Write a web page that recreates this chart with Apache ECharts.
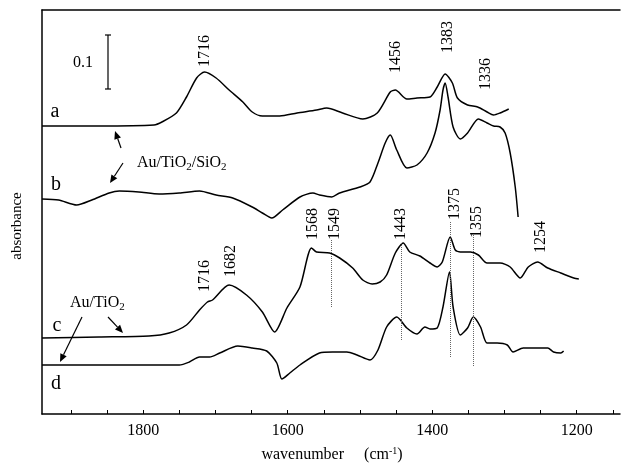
<!DOCTYPE html>
<html>
<head>
<meta charset="utf-8">
<script src="https://cdn.jsdelivr.net/npm/echarts@6/dist/echarts.min.js"></script>
<style>
html,body{margin:0;padding:0;background:#fff}
#chart{width:622px;height:469px}
</style>
</head>
<body>
<div id="chart"></div>
<script>
// spectra (wavenumber / absorbance, offset units)
var wnA  = [1940,1861,1785,1774,1754,1740,1726,1715,1699,1681,1662,1649,1635,1611,1587,1560,1546,1524,1496,1476,1458,1451,1435,1421,1403,1393,1382,1372,1365,1351,1337,1324,1315,1306,1294];
var absA = [288,288,289,292,301,317,336,342,336,324,312,302,298,298,301,304,306,301,295,301,322,324,315,316,317,327,340,331,316,309,307,302,299,301,305];

var wnB  = [1940,1917,1892,1871,1847,1833,1806,1778,1750,1722,1699,1676,1649,1635,1622,1607,1583,1565,1556,1539,1528,1500,1486,1475,1465,1458,1449,1435,1421,1407,1396,1389,1385,1382,1378,1371,1361,1351,1336,1324,1315,1306,1299,1292,1285,1281];
var absB = [215,214,209,214,221,223,222,220,221,223,219,216,207,201,196,204,217,221,219,217,221,227,232,251,271,279,264,246,249,261,281,304,324,331,317,287,275,281,295,291,288,287,281,261,227,197];

var wnC  = [1940,1861,1792,1764,1740,1722,1711,1704,1681,1657,1635,1618,1601,1583,1567,1560,1542,1528,1510,1496,1483,1472,1463,1451,1440,1431,1417,1403,1393,1386,1375,1368,1361,1347,1336,1324,1306,1292,1278,1267,1254,1240,1222,1204,1197];
var absC = [76,77,78,81,89,104,112,114,129,119,102,82,106,127,166,162,161,156,146,134,130,132,139,161,171,162,158,151,147,152,177,164,162,162,159,151,151,147,136,147,152,146,141,136,135];

var wnD  = [1940,1750,1736,1722,1708,1694,1669,1649,1629,1615,1608,1597,1583,1556,1538,1518,1504,1486,1475,1463,1449,1435,1421,1410,1403,1393,1385,1376,1371,1361,1351,1343,1333,1324,1310,1296,1288,1274,1254,1240,1232,1222,1218];
var absD = [49,49,52,57,57,61,68,66,63,51,35,41,49,61,62,62,59,54,64,87,97,86,80,87,85,86,107,142,107,79,86,97,87,71,71,69,62,66,66,66,62,61,63];

// peak labels
var peakText = ['1716','1456','1383','1336','1716','1682','1568','1549','1443','1375','1355','1254'];
var peakWn   = [1715,1451,1378,1326,1714,1679,1565,1535,1444,1368,1338,1250];
var peakBase = [347,341,361,324,122,137,174,174,174,194,176,161];

// dotted guide lines
var guideWn     = [1539,1443,1375,1343];
var guideTop    = [174,171,192,179];
var guideBottom = [107,74,57,47];

var tickVals  = [1150,1200,1250,1300,1350,1400,1450,1500,1550,1600,1650,1700,1750,1800,1850,1900];
var labelVals = [1200,1400,1600,1800];

function pairs(xs, ys){
	var out = [];
	for(var i=0;i<xs.length;i++){ out.push([xs[i], ys[i]]); }
	return out;
}

var serif = 'Liberation Serif';

function curve(name, xs, ys){
	return {
		name:name,
		type:'line',
		data:pairs(xs, ys),
		symbol:'none',
		smooth:0.25,
		lineStyle:{color:'#000',width:1.5},
		silent:true,
		animation:false
	};
}

var guides = [];
for(var i=0;i<guideWn.length;i++){
	guides.push([{coord:[guideWn[i], guideTop[i]]},{coord:[guideWn[i], guideBottom[i]]}]);
}

var seriesC = curve('c', wnC, absC);
seriesC.markLine = {
	silent:true,
	symbol:'none',
	label:{show:false},
	lineStyle:{type:'dotted',color:'#666',width:1},
	data:guides
};

var option = {
	animation:false,
	backgroundColor:'#fff',
	grid:{left:42,top:10,right:2,bottom:55},
	xAxis:[{
		type:'value',
		inverse:true,
		min:1140,
		max:1940,
		axisLine:{lineStyle:{color:'#000',width:1.5}},
		axisTick:{inside:true,length:4,customValues:tickVals,lineStyle:{color:'#000'}},
		axisLabel:{customValues:labelVals,color:'#000',fontFamily:serif,fontSize:16,margin:9,
			formatter:function(v){ return String(v); }},
		splitLine:{show:false}
	},{
		type:'value',
		position:'top',
		inverse:true,
		min:1140,
		max:1940,
		axisLine:{show:true,lineStyle:{color:'#000',width:1.5}},
		axisTick:{show:false},
		axisLabel:{show:false},
		splitLine:{show:false}
	}],
	yAxis:{
		type:'value',
		min:0,
		max:404,
		axisLine:{show:true,lineStyle:{color:'#000',width:1.5}},
		axisTick:{show:false},
		axisLabel:{show:false},
		splitLine:{show:false}
	},
	series:[
		curve('a', wnA, absA),
		curve('b', wnB, absB),
		seriesC,
		curve('d', wnD, absD)
	]
};

var myChart = echarts.init(document.getElementById('chart'));
myChart.setOption(option);

function txt(x, y, s, size){
	return {
		type:'text',
		x:x, y:y,
		style:{text:s,fill:'#000',font:size+'px "'+serif+'"',textAlign:'center',textVerticalAlign:'middle'},
		silent:true
	};
}

function arrow(x1,y1,x2,y2){
	var ang = Math.atan2(y2-y1, x2-x1);
	var L = 8, W = 3.5;
	var bx = x2 - L*Math.cos(ang), by = y2 - L*Math.sin(ang);
	return [
		{type:'line',shape:{x1:x1,y1:y1,x2:bx,y2:by},style:{stroke:'#000',lineWidth:1.2},silent:true},
		{type:'polygon',shape:{points:[[x2,y2],[bx+W*Math.sin(ang),by-W*Math.cos(ang)],[bx-W*Math.sin(ang),by+W*Math.cos(ang)]]},style:{fill:'#000'},silent:true}
	];
}

var g = [];
// peak labels, rotated, anchored in data coords
for(var i=0;i<peakText.length;i++){
	var p = myChart.convertToPixel({xAxisIndex:0,yAxisIndex:0},[peakWn[i], peakBase[i]]);
	g.push({
		type:'text',
		x:p[0], y:p[1],
		rotation:Math.PI/2,
		style:{text:peakText[i],fill:'#000',font:'16px "'+serif+'"',textAlign:'left',textVerticalAlign:'middle'},
		silent:true
	});
}

// trace letters
g.push(txt(55,112,'a',20));
g.push(txt(56,185,'b',20));
g.push(txt(57,326,'c',20));
g.push(txt(56,384,'d',20));

// sample annotations
var richSub = {
	n:{fontFamily:serif,fontSize:16,fill:'#000',lineHeight:20,verticalAlign:'middle'},
	s:{fontFamily:serif,fontSize:11,fill:'#000',lineHeight:20,padding:[9,0,0,0]}
};
g.push({
	type:'text', x:137, y:163,
	style:{text:'{n|Au/TiO}{s|2}{n|/SiO}{s|2}',textAlign:'left',textVerticalAlign:'middle',rich:richSub},
	silent:true
});
g.push({
	type:'text', x:70, y:303,
	style:{text:'{n|Au/TiO}{s|2}',textAlign:'left',textVerticalAlign:'middle',rich:richSub},
	silent:true
});
g = g.concat(arrow(121,148,115,131));
g = g.concat(arrow(123,163,110,183));
g = g.concat(arrow(108,317,123,333));
g = g.concat(arrow(82,317,60,362));

// 0.1 scale bar
g.push({type:'line',shape:{x1:108,y1:35,x2:108,y2:89},style:{stroke:'#000',lineWidth:1.2},silent:true});
g.push({type:'line',shape:{x1:105,y1:35,x2:111,y2:35},style:{stroke:'#000',lineWidth:1.2},silent:true});
g.push({type:'line',shape:{x1:105,y1:89,x2:111,y2:89},style:{stroke:'#000',lineWidth:1.2},silent:true});
g.push(txt(83,63,'0.1',16));

// axis titles
g.push({
	type:'text', x:17, y:226, rotation:Math.PI/2,
	style:{text:'absorbance',fill:'#000',font:'15px "'+serif+'"',textAlign:'center',textVerticalAlign:'middle'},
	silent:true
});
g.push({
	type:'text', x:332, y:455,
	style:{
		text:'{n|wavenumber     (cm}{s|-1}{n|)}',
		textAlign:'center',textVerticalAlign:'middle',
		rich:{
			n:{fontFamily:serif,fontSize:16,fill:'#000',lineHeight:18},
			s:{fontFamily:serif,fontSize:10,fill:'#000',lineHeight:18,padding:[0,0,7,0]}
		}
	},
	silent:true
});

myChart.setOption({graphic:g});
</script>
</body>
</html>
